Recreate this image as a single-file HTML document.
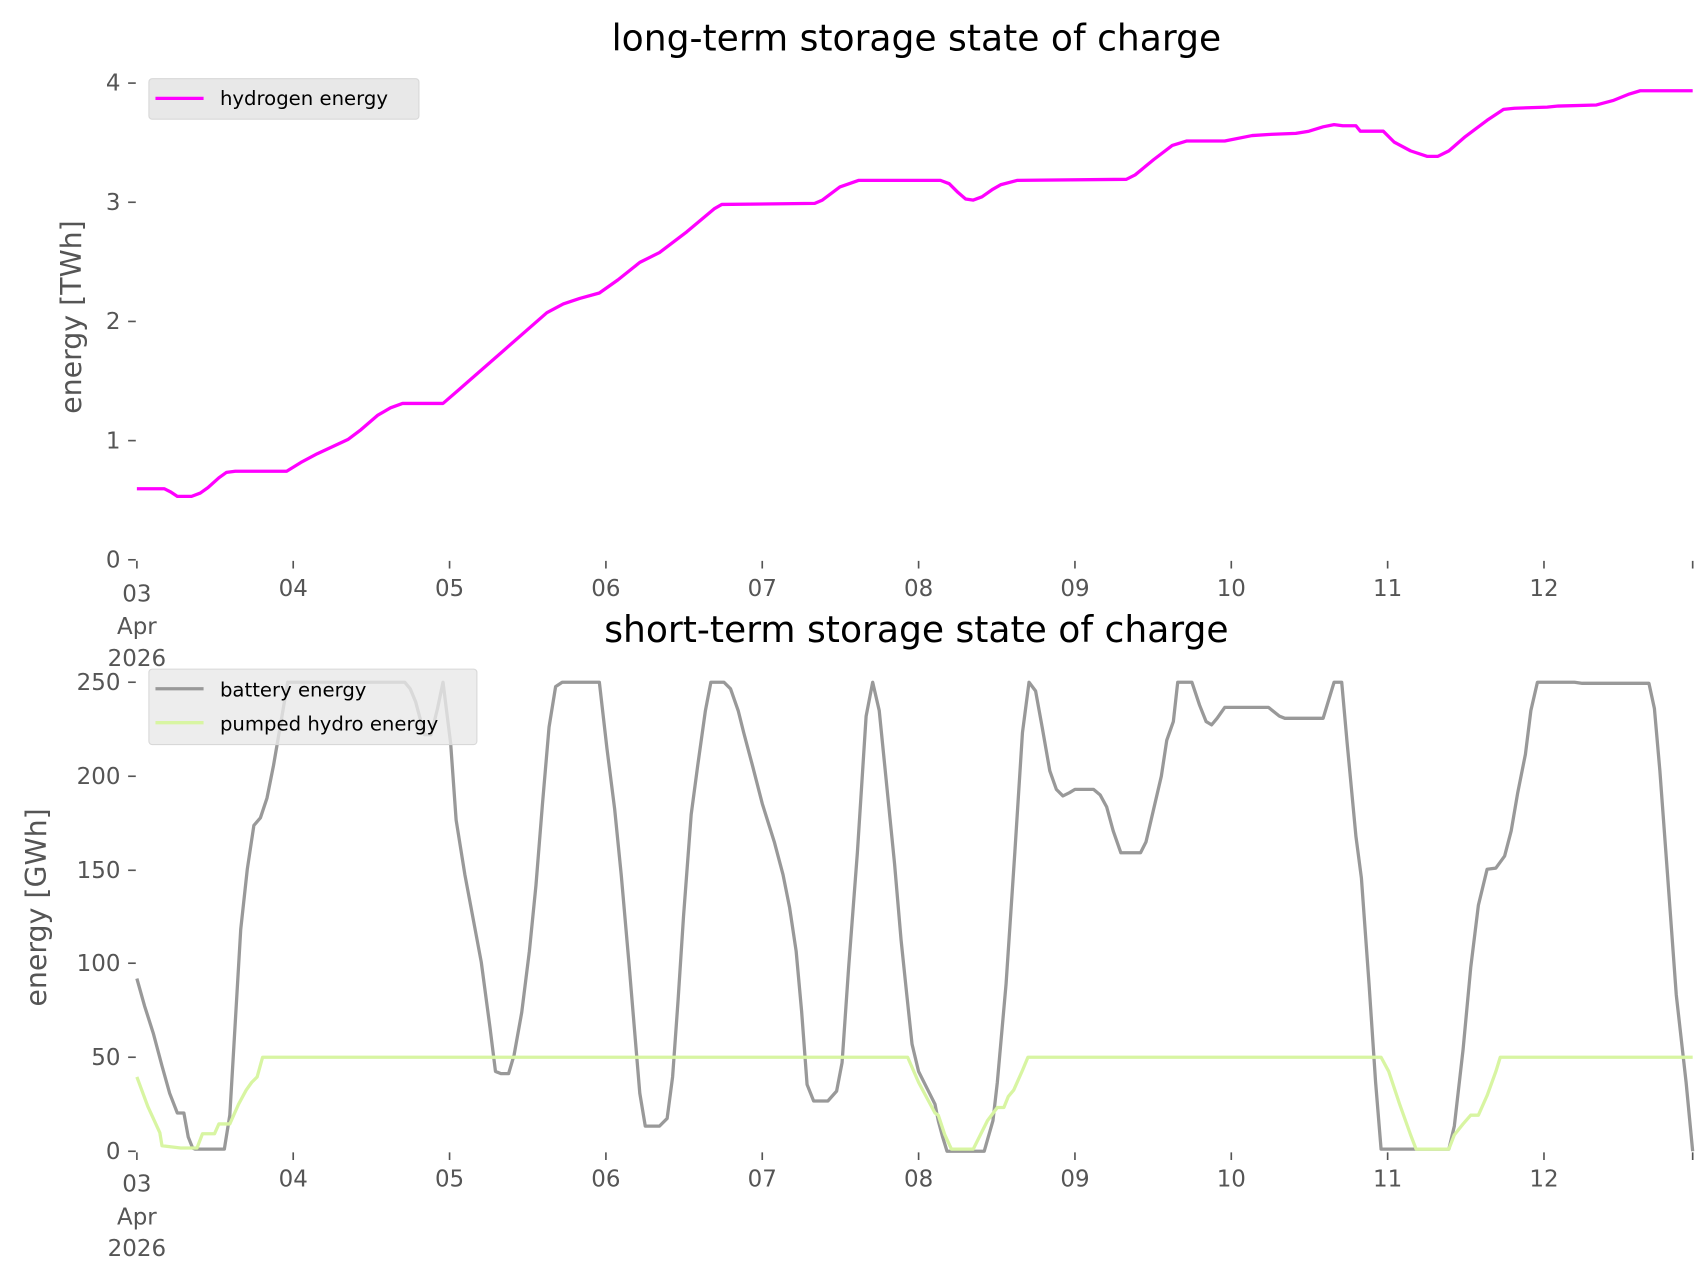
<!DOCTYPE html>
<html><head><meta charset="utf-8"><style>
html,body{margin:0;padding:0;background:#fff;}
svg{display:block;font-family:"DejaVu Sans","Liberation Sans",sans-serif;}
.t{fill:#555;font-size:21px;}
.ti{fill:#000;font-size:33px;}
.yl{fill:#555;font-size:26px;}
.lg{fill:#000;font-size:18px;}
</style></head><body>
<svg width="1706" height="1277" viewBox="0 0 1560 1168" xmlns="http://www.w3.org/2000/svg">
<rect width="1560" height="1168" fill="#fff"/>
<!-- top -->
<text class="ti" x="838" y="46" text-anchor="middle">long-term storage state of charge</text>
<text class="yl" transform="translate(74,290) rotate(-90)" text-anchor="middle">energy [TWh]</text>
<g stroke="#555" stroke-width="1.5">
<line x1="117" y1="512" x2="124" y2="512"/><line x1="117" y1="403" x2="124" y2="403"/><line x1="117" y1="294" x2="124" y2="294"/><line x1="117" y1="185" x2="124" y2="185"/><line x1="117" y1="76" x2="124" y2="76"/>
</g>
<g class="t" text-anchor="end">
<text x="110" y="519">0</text><text x="110" y="410">1</text><text x="110" y="301">2</text><text x="110" y="192">3</text><text x="110" y="83">4</text>
</g>
<g stroke="#555" stroke-width="1.5">
<line x1="125" y1="513" x2="125" y2="520"/><line x1="268" y1="513" x2="268" y2="520"/><line x1="411" y1="513" x2="411" y2="520"/><line x1="554" y1="513" x2="554" y2="520"/><line x1="697" y1="513" x2="697" y2="520"/><line x1="840" y1="513" x2="840" y2="520"/><line x1="983" y1="513" x2="983" y2="520"/><line x1="1126" y1="513" x2="1126" y2="520"/><line x1="1269" y1="513" x2="1269" y2="520"/><line x1="1412" y1="513" x2="1412" y2="520"/><line x1="1548" y1="513" x2="1548" y2="520"/>
</g>
<g class="t" text-anchor="middle">
<text x="125" y="550">03</text><text x="125" y="580">Apr</text><text x="125" y="609">2026</text>
<text x="268" y="545">04</text><text x="411" y="545">05</text><text x="554" y="545">06</text><text x="697" y="545">07</text><text x="840" y="545">08</text><text x="983" y="545">09</text><text x="1126" y="545">10</text><text x="1269" y="545">11</text><text x="1412" y="545">12</text>
</g>
<polyline fill="none" stroke="#ff00ff" stroke-width="3" stroke-linejoin="round" points="125,447 150,447 156,450 162,454 175,454 183,451 190,446 200,437 207,432 215,431 262,431 275,423 290,415 318,402 330,393 345,380 357,373 368,369 405,369 420,356 460,321 500,286 515,278 530,273 548,268 565,256 585,240 595,235 603,231 628,212 653,191 660,187 745,186 752,183 768,171 785,165 860,165 868,168 876,176 883,182 890,183 898,180 908,173 915,169 930,165 1030,164 1038,160 1055,146 1072,133 1085,129 1120,129 1145,124 1160,123 1185,122 1197,120 1210,116 1220,114 1228,115 1240,115 1244,120 1265,120 1275,130 1290,138 1305,143 1315,143 1325,138 1340,125 1360,110 1375,100 1385,99 1415,98 1425,97 1460,96 1475,92 1490,86 1500,83 1548,83"/>
<rect x="136" y="72" width="247" height="37" rx="3" fill="#e8e8e8" stroke="#d8d8d8"/>
<line x1="142" y1="90" x2="186" y2="90" stroke="#ff00ff" stroke-width="3"/>
<text class="lg" x="201" y="96">hydrogen energy</text>

<!-- bottom -->
<text class="ti" x="838" y="587" text-anchor="middle">short-term storage state of charge</text>
<text class="yl" transform="translate(42,830) rotate(-90)" text-anchor="middle">energy [GWh]</text>
<g stroke="#555" stroke-width="1.5">
<line x1="117" y1="1053" x2="124" y2="1053"/><line x1="117" y1="967" x2="124" y2="967"/><line x1="117" y1="881" x2="124" y2="881"/><line x1="117" y1="796" x2="124" y2="796"/><line x1="117" y1="710" x2="124" y2="710"/><line x1="117" y1="624" x2="124" y2="624"/>
</g>
<g class="t" text-anchor="end">
<text x="110" y="1060">0</text><text x="110" y="974">50</text><text x="110" y="888">100</text><text x="110" y="803">150</text><text x="110" y="717">200</text><text x="110" y="631">250</text>
</g>
<g stroke="#555" stroke-width="1.5">
<line x1="125" y1="1054" x2="125" y2="1061"/><line x1="268" y1="1054" x2="268" y2="1061"/><line x1="411" y1="1054" x2="411" y2="1061"/><line x1="554" y1="1054" x2="554" y2="1061"/><line x1="697" y1="1054" x2="697" y2="1061"/><line x1="840" y1="1054" x2="840" y2="1061"/><line x1="983" y1="1054" x2="983" y2="1061"/><line x1="1126" y1="1054" x2="1126" y2="1061"/><line x1="1269" y1="1054" x2="1269" y2="1061"/><line x1="1412" y1="1054" x2="1412" y2="1061"/><line x1="1548" y1="1054" x2="1548" y2="1061"/>
</g>
<g class="t" text-anchor="middle">
<text x="125" y="1090">03</text><text x="125" y="1120">Apr</text><text x="125" y="1149">2026</text>
<text x="268" y="1085">04</text><text x="411" y="1085">05</text><text x="554" y="1085">06</text><text x="697" y="1085">07</text><text x="840" y="1085">08</text><text x="983" y="1085">09</text><text x="1126" y="1085">10</text><text x="1269" y="1085">11</text><text x="1412" y="1085">12</text>
</g>
<polyline fill="none" stroke="#999" stroke-width="3" stroke-linejoin="round" points="125,895 132,920 140,945 148,975 155,1000 162,1018 168,1018 172,1040 176,1050 178,1051 205,1051 210,1020 215,935 220,850 226,795 232,755 238,748 244,730 250,700 256,665 263,624 370,624 375,630 380,642 388,672 394,672 400,648 405,624 412,680 417,750 425,800 440,880 448,940 453,980 458,982 465,982 470,965 477,926 484,870 490,810 496,735 502,665 508,628 514,624 548,624 555,685 562,740 568,800 575,880 580,940 585,1000 590,1030 597,1030 603,1030 610,1023 615,985 620,915 625,838 632,745 638,700 645,650 650,624 662,624 668,630 675,650 680,670 688,700 697,735 708,770 716,800 722,830 728,870 733,925 738,992 744,1007 757,1007 765,998 770,972 776,885 784,780 792,655 798,624 804,650 812,730 818,790 824,860 829,908 834,955 840,980 850,1000 855,1010 858,1025 862,1040 866,1053 900,1053 908,1025 912,990 920,900 928,780 935,670 941,624 947,632 953,665 960,705 966,722 972,728 978,725 983,722 1000,722 1006,727 1012,738 1018,760 1025,780 1043,780 1048,770 1055,740 1062,710 1067,677 1073,660 1077,624 1090,624 1097,645 1103,660 1108,663 1113,657 1120,647 1160,647 1170,655 1175,657 1210,657 1220,624 1227,624 1232,680 1240,765 1245,803 1252,900 1258,990 1263,1051 1325,1051 1330,1030 1338,960 1345,885 1352,828 1360,795 1368,794 1376,783 1382,760 1388,725 1395,690 1400,650 1406,624 1440,624 1447,625 1508,625 1513,648 1518,705 1525,800 1533,910 1542,990 1548,1053"/>
<polyline fill="none" stroke="#d8f5a2" stroke-width="3" stroke-linejoin="round" points="125,985 135,1012 146,1036 148,1048 165,1050 180,1050 185,1037 196,1037 200,1028 210,1028 218,1010 225,997 230,990 235,985 240,967 830,967 840,990 848,1005 855,1018 858,1020 864,1038 870,1051 890,1051 897,1037 903,1025 912,1013 918,1013 922,1003 927,997 935,979 940,967 1263,967 1270,980 1280,1010 1290,1038 1295,1051 1325,1051 1330,1038 1338,1028 1345,1020 1352,1020 1360,1002 1368,980 1372,967 1548,967"/>
<rect x="136" y="612" width="300" height="69" rx="3" fill="#e8e8e8" fill-opacity="0.8" stroke="#d8d8d8"/>
<line x1="142" y1="630" x2="186" y2="630" stroke="#999" stroke-width="3"/>
<text class="lg" x="201" y="637">battery energy</text>
<line x1="142" y1="661" x2="186" y2="661" stroke="#d8f5a2" stroke-width="3"/>
<text class="lg" x="201" y="668">pumped hydro energy</text>
</svg>
</body></html>
